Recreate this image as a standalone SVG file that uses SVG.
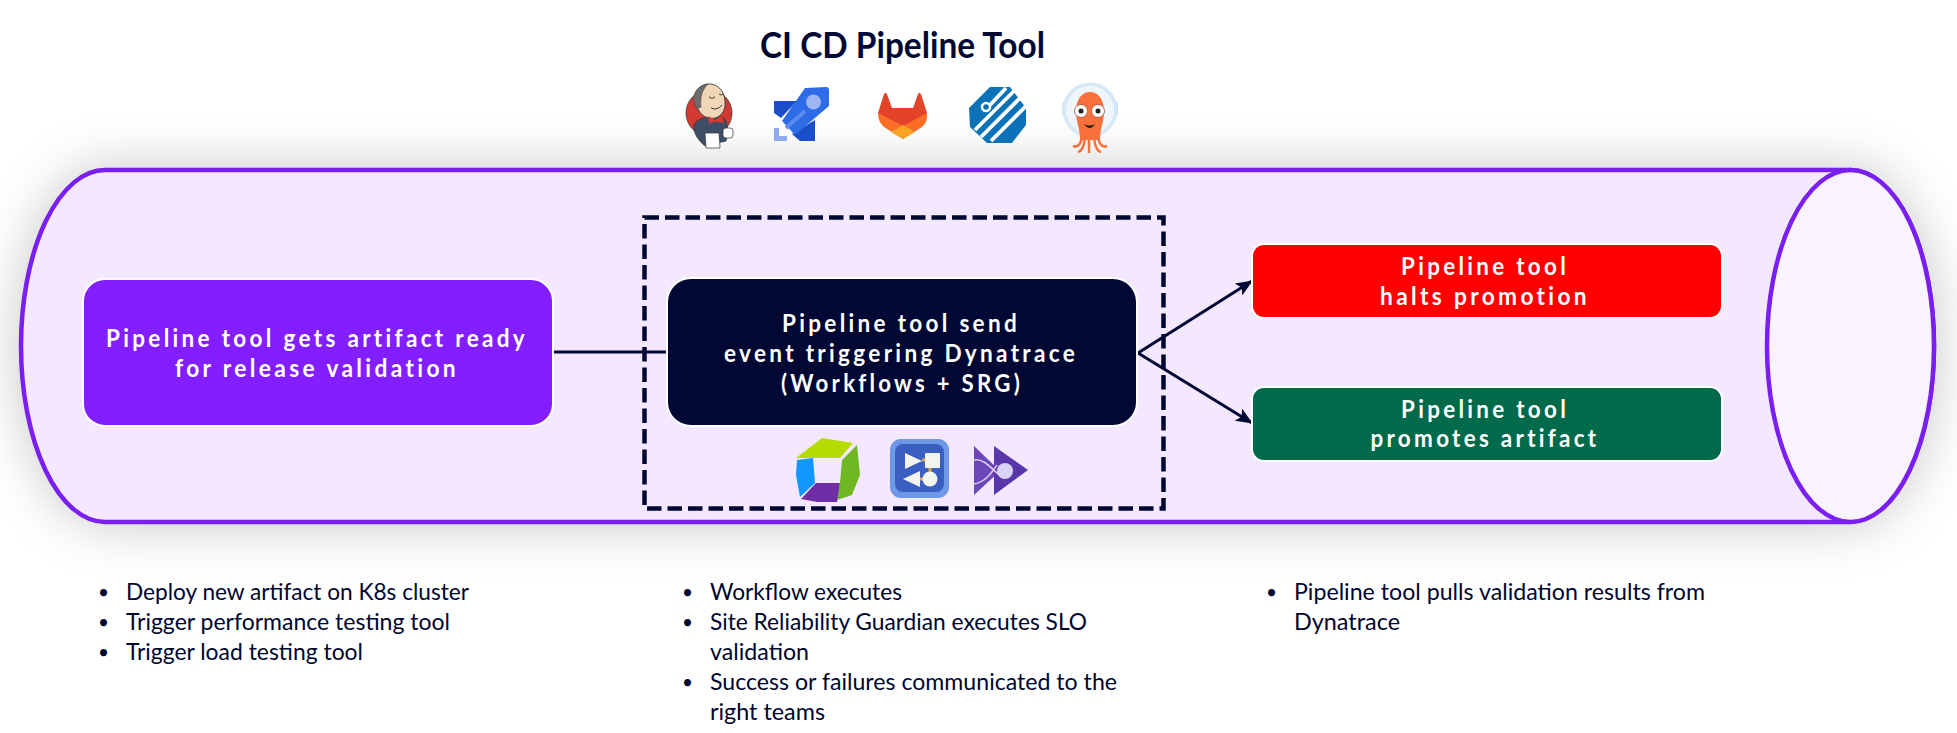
<svg xmlns="http://www.w3.org/2000/svg" width="1957" height="733" viewBox="0 0 1957 733">
<defs>
<style>
.box{stroke:#fff;stroke-width:2}
.lbl{font-family:"Lato","Open Sans",sans-serif;font-weight:700;font-size:24.500px;fill:#fff;text-anchor:middle;letter-spacing:3.600px}
.note{font-family:"Lato","Open Sans",sans-serif;font-size:23px;fill:#00052e}
.dot{font-family:"Lato","Open Sans",sans-serif;font-size:19px;fill:#00052e}
.conn{stroke:#000833;stroke-width:3;fill:none}
</style>
<filter id="soft" x="-10%" y="-40%" width="120%" height="180%"><feGaussianBlur stdDeviation="27"/></filter>
<marker id="arr" markerUnits="userSpaceOnUse" markerWidth="17" markerHeight="14" refX="16" refY="7" orient="auto"><path d="M0,0L17,7L0,14L4,7Z" fill="#000833"/></marker>
</defs>
<rect width="1957" height="733" fill="#fff"/>
<path d="M105,170H1850A84,176 0 0 1 1850,522H105A84,176 0 0 1 105,170Z" fill="#000" fill-opacity=".24" filter="url(#soft)"/>
<g id="tube">
<path d="M105,170H1850A84,176 0 0 1 1850,522H105A84,176 0 0 1 105,170Z" fill="#f3e8ff" stroke="#7a1ff0" stroke-width="4.500"/>
<ellipse cx="1850.500" cy="346" rx="83.500" ry="176" fill="#f9f3ff" stroke="#7a1ff0" stroke-width="4.500"/>
</g>
<text x="902.500" y="58" text-anchor="middle" font-family="Lato,'Open Sans',sans-serif" font-weight="700" font-size="36" fill="#000833" textLength="285" lengthAdjust="spacingAndGlyphs">CI CD Pipeline Tool</text>

<g id="icon-jenkins">
<circle cx="709" cy="113" r="23" fill="#d33833" stroke="#3a3a3a" stroke-width=".8"/>
<path d="M694,125C697,119 706,116 712,118L722,116C728,122 729,132 726,141L705,146C698,140 693,133 694,125Z" fill="#3d4e66" stroke="#2c2c2c" stroke-width=".7"/>
<path d="M695,101C693,90 702,83 711,84C720,85 726,94 725,106C724,114 717,120 709,118C702,117 697,110 695,101Z" fill="#f0d6b7" stroke="#3a3a3a" stroke-width=".9"/>
<path d="M695,105C691,96 696,86 708,84C702,90 700,97 701,107C698,109 696,108 695,105Z" fill="#6d6b6d" stroke="#3a3a3a" stroke-width=".5"/>
<path d="M709,97Q712,100 715,97M719,94Q721,96 723,94M711,108Q717,111 722,105" fill="none" stroke="#3a3a3a" stroke-width="1"/>
<path d="M708,116L715,120L722,115L724,123L715,122L709,124Z" fill="#d33833"/>
<path d="M705,133H719L720,148H706Z" fill="#fff" stroke="#333" stroke-width=".7"/>
<rect x="723" y="128" width="10" height="10" rx="3" fill="#fff" stroke="#333" stroke-width=".7"/>
</g>

<g id="icon-azure-pipelines">
<path d="M774,101H797L781,118L774,113Z" fill="#1a4fc9"/>
<path d="M815,120V141H800L792,134Z" fill="#1a4fc9"/>
<path d="M805,88L826,87Q829,87 829,90V106L795,135L782,121Z" fill="#2e6be6"/>
<circle cx="813.500" cy="102" r="7.500" fill="#9db5f2"/>
<path d="M786,128L805,111" stroke="#5a8cf0" stroke-width="4"/>
<path d="M774,128H779V136H787V141H774Z" fill="#91a9ee"/>
</g>

<g id="icon-gitlab">
<path d="M878,113Q878,122 884,127L903,139L922,127Q928,122 927,113L902,110Z" fill="#fc6d26"/>
<path d="M878,113L884,94Q885,92 887,94L892,108H913L918,94Q919,92 921,94L927,113L903,126Z" fill="#e24329"/>
<path d="M891,132L903,125L915,132L903,139Z" fill="#fca326"/>
</g>

<g id="icon-striped">
<path d="M990,87H1010L1026,108V125L1012,143H987L970,127L969,108Z" fill="#0b72b8"/>
<g stroke="#fff" stroke-width="3.800">
<path d="M1006,88L990,105"/><path d="M1016,89L975,130"/><path d="M1023,95L981,137"/><path d="M1028,104L991,141"/>
</g>
<circle cx="986" cy="107" r="4" fill="#0b72b8" stroke="#fff" stroke-width="2.500"/>
</g>

<g id="icon-argo">
<rect x="1062" y="100" width="56" height="18" rx="5" fill="#cfe3f3"/>
<circle cx="1090" cy="110" r="27.500" fill="#d6e8f6"/>
<circle cx="1090" cy="110" r="24" fill="#eef6fb"/>
<g fill="none" stroke="#f8703c" stroke-width="2.500">
<path d="M1082,132C1082,144 1078,148 1073,146"/><path d="M1085,132C1085,146 1082,151 1078,152"/><path d="M1089,132V153"/><path d="M1094,132C1094,146 1097,151 1101,152"/><path d="M1098,132C1098,144 1102,148 1107,146"/>
</g>
<path d="M1076,112C1076,100 1081,92 1090,92C1099,92 1104,100 1104,112C1104,122 1100,128 1100,140H1080C1080,128 1076,122 1076,112Z" fill="#f8703c"/>
<circle cx="1081" cy="111" r="6.500" fill="#fff" stroke="#a34d2e" stroke-width=".8"/><circle cx="1098" cy="111" r="6.500" fill="#fff" stroke="#a34d2e" stroke-width=".8"/>
<circle cx="1081" cy="111" r="2.500" fill="#222"/><circle cx="1098" cy="111" r="2.500" fill="#222"/>
<path d="M1084,124Q1090,127 1095,124Q1090,132 1084,124Z" fill="#222"/>
</g>

<g id="connectors">
<path class="conn" d="M553,352H668"/>
<path class="conn" d="M1138,353L1252,281" marker-end="url(#arr)"/>
<path class="conn" d="M1138,353L1252,423" marker-end="url(#arr)"/>
</g>

<rect id="boundary" x="644.500" y="217.500" width="519" height="291" fill="none" stroke="#000833" stroke-width="4.500" stroke-dasharray="14.500 6"/>

<g id="node-ready">
<rect class="box" x="83" y="279" width="470" height="147" rx="22" fill="#821eff"/>
<text class="lbl" x="317" y="347" textLength="422" lengthAdjust="spacingAndGlyphs">Pipeline tool gets artifact ready</text>
<text class="lbl" x="317" y="377" textLength="284" lengthAdjust="spacingAndGlyphs">for release validation</text>
</g>
<g id="node-send">
<rect class="box" x="667" y="278" width="470" height="148" rx="24" fill="#000833"/>
<text class="lbl" x="901" y="332" textLength="238" lengthAdjust="spacingAndGlyphs">Pipeline tool send</text>
<text class="lbl" x="901" y="362" textLength="354" lengthAdjust="spacingAndGlyphs">event triggering Dynatrace</text>
<text class="lbl" x="902" y="392" textLength="242" lengthAdjust="spacingAndGlyphs">(Workflows + SRG)</text>
</g>
<g id="node-halt">
<rect class="box" x="1252" y="244" width="470" height="74" rx="12" fill="#f00"/>
<text class="lbl" x="1485" y="275" textLength="168" lengthAdjust="spacingAndGlyphs">Pipeline tool</text>
<text class="lbl" x="1485" y="305" textLength="210" lengthAdjust="spacingAndGlyphs">halts promotion</text>
</g>
<g id="node-promote">
<rect class="box" x="1252" y="387" width="470" height="74" rx="12" fill="#006a4a"/>
<text class="lbl" x="1485" y="418" textLength="168" lengthAdjust="spacingAndGlyphs">Pipeline tool</text>
<text class="lbl" x="1485" y="447" textLength="229" lengthAdjust="spacingAndGlyphs">promotes artifact</text>
</g>

<g id="icon-dynatrace">
<path d="M796,458L822,438L853,443L840,458L813,458Z" fill="#b4dc00"/>
<path d="M857,445L860,475L852,495L837,500L840,483L842,460Z" fill="#6fb824"/>
<path d="M797,460L813,458L815,483L800,497L796,475Z" fill="#1496ff"/>
<path d="M801,499L816,483L840,483L837,502L817,502Z" fill="#6f2da8"/>
</g>
<g id="icon-workflows">
<rect x="890" y="439" width="59" height="59" rx="11" fill="#6e97e6"/>
<rect x="895" y="444" width="49" height="48" rx="8" fill="#3b5fc0"/>
<path d="M905,453L922,461L905,469Z" fill="#f4f4ef"/>
<rect x="925" y="453" width="15" height="15" rx="1" fill="#f4f4ef"/>
<path d="M922,460H925M930,468V478M918,479H926" stroke="#e0a84f" stroke-width="3"/>
<path d="M920,471L903,479L920,487Z" fill="#f4f4ef"/>
<circle cx="930" cy="479" r="7.500" fill="#f4f4ef"/>
</g>
<g id="icon-srg">
<path d="M974,446L1000,471L974,495Z" fill="#6b47b8"/>
<path d="M994,446L1028,470L994,495Z" fill="#5a36ad"/>
<path d="M974,460C985,458 992,470 1003,478M974,484C985,482 990,475 997,465" fill="none" stroke="#d8cdf2" stroke-width="1.500"/>
<circle cx="1005" cy="471" r="8" fill="#d8d3f5"/>
</g>

<g id="notes">
<text class="dot" x="98" y="599">•</text><text class="note" x="126" y="600" textLength="343" lengthAdjust="spacingAndGlyphs">Deploy new artifact on K8s cluster</text>
<text class="dot" x="98" y="629">•</text><text class="note" x="126" y="630" textLength="324" lengthAdjust="spacingAndGlyphs">Trigger performance testing tool</text>
<text class="dot" x="98" y="659">•</text><text class="note" x="126" y="660" textLength="237" lengthAdjust="spacingAndGlyphs">Trigger load testing tool</text>
<text class="dot" x="682" y="599">•</text><text class="note" x="710" y="600" textLength="192" lengthAdjust="spacingAndGlyphs">Workflow executes</text>
<text class="dot" x="682" y="629">•</text><text class="note" x="710" y="630" textLength="377" lengthAdjust="spacingAndGlyphs">Site Reliability Guardian executes SLO</text>
<text class="note" x="710" y="660" textLength="99" lengthAdjust="spacingAndGlyphs">validation</text>
<text class="dot" x="682" y="689">•</text><text class="note" x="710" y="690" textLength="407" lengthAdjust="spacingAndGlyphs">Success or failures communicated to the</text>
<text class="note" x="710" y="720" textLength="115" lengthAdjust="spacingAndGlyphs">right teams</text>
<text class="dot" x="1266" y="599">•</text><text class="note" x="1294" y="600" textLength="411" lengthAdjust="spacingAndGlyphs">Pipeline tool pulls validation results from</text>
<text class="note" x="1294" y="630" textLength="106" lengthAdjust="spacingAndGlyphs">Dynatrace</text>
</g>
</svg>
